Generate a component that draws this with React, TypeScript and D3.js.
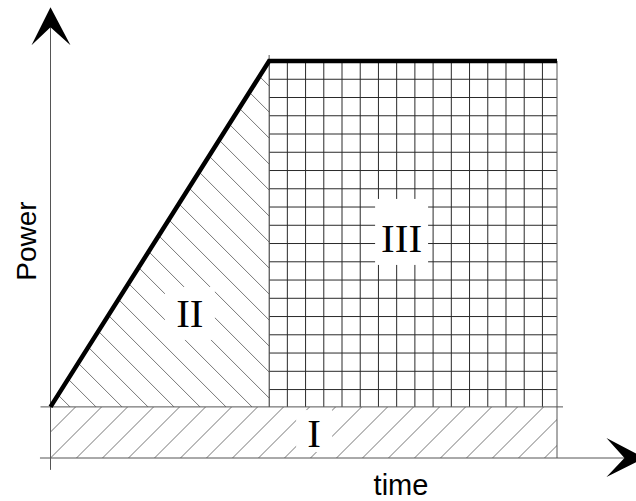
import React from "react";
import * as d3 from "d3";

// Schematic power profile: time breakpoints and power levels (in grid units)
const TIME = [0, 12, 27.8]; // start, end of ramp, end of plateau
const POWER = [2.8, 21.75]; // base load (top of region I), peak power
const AXIS_END = [32.6, 24.7]; // arrow tips: time axis, power axis
const AXIS_START = [-0.55, -0.65]; // small overshoot of axes past origin
const PHASES = ["I", "II", "III"];
const PHASE_T = [14.47, 7.65, 19.27]; // label centres (time)
const PHASE_P = [0.6, 7.18, 11.29]; // label baselines (power)
const AXIS_TITLES = ["time", "Power"];

const W = 636;
const H = 501;

const x = d3.scaleLinear().domain([0, 27.8]).range([50.5, 557]);
const y = d3.scaleLinear().domain([0, 21.75]).range([458, 61]);

export default function App() {
  const x0 = x(TIME[0]);
  const x1 = x(TIME[1]);
  const x2 = x(TIME[2]);
  const y0 = y(0);
  const yb = y(POWER[0]);
  const yp = y(POWER[1]);

  // grid for region III
  const gridX = d3.range(TIME[1], TIME[2] + 0.001, 1).map((t) => x(t));
  const gridY = d3.range(POWER[1], POWER[0] - 0.3, -1).map((p) => y(p));

  // hatch lines
  const hatchI = d3.range(-4, 24).map((k) => x0 + 26 * k);
  const hatchII = d3.range(0, 24).map((k) => 70 + 26 * k);

  const line = d3.line();
  const ramp = line([
    [x0, yb],
    [x1, yp],
    [x2, yp],
  ]);
  const tri = line([
    [x0, yb],
    [x1, yp],
    [x1, yb],
  ]) + "Z";

  const boxes = [
    { w: 36, top: 37, bot: 5 },
    { w: 50, top: 40, bot: 13 },
    { w: 53, top: 53, bot: 13 },
  ];

  const tipY = y(AXIS_END[1]);
  const tipX = x(AXIS_END[0]);
  const axisColor = "#555";

  return (
    <svg
      width={W}
      height={H}
      style={{ position: "absolute", left: 0, top: 0, background: "#fff" }}
    >
      <defs>
        <clipPath id="clipI">
          <rect x={x0} y={yb} width={x2 - x0} height={y0 - yb} />
        </clipPath>
        <clipPath id="clipII">
          <path d={tri} />
        </clipPath>
        <clipPath id="clipIII">
          <rect x={x1} y={yp} width={x2 - x1} height={yb - yp} />
        </clipPath>
      </defs>
      <rect x={0} y={0} width={W} height={H} fill="#fff" />

      {/* region I hatch (/) */}
      <g clipPath="url(#clipI)" stroke="#777" strokeWidth={1}>
        {hatchI.map((c, i) => (
          <line key={i} x1={c} y1={y0} x2={c + 120} y2={y0 - 120} />
        ))}
      </g>

      {/* region II hatch (\) */}
      <g clipPath="url(#clipII)" stroke="#777" strokeWidth={1}>
        {hatchII.map((c, i) => (
          <line key={i} x1={c} y1={yb} x2={c - 500} y2={yb - 500} />
        ))}
      </g>

      {/* region III grid */}
      <g clipPath="url(#clipIII)" stroke="#2a2a2a" strokeWidth={1}>
        {gridX.map((gx, i) => (
          <line key={"v" + i} x1={gx} y1={yp} x2={gx} y2={yb} />
        ))}
        {gridY.map((gy, i) => (
          <line key={"h" + i} x1={x1} y1={gy} x2={x2} y2={gy} />
        ))}
      </g>

      {/* white label boxes */}
      {PHASES.map((p, i) => {
        const cx = x(PHASE_T[i]);
        const by = y(PHASE_P[i]);
        const b = boxes[i];
        return (
          <rect
            key={p}
            x={cx - b.w / 2}
            y={by - b.top}
            width={b.w}
            height={b.top + b.bot}
            fill="#fff"
          />
        );
      })}

      {/* outlines */}
      <g stroke={axisColor} strokeWidth={1} fill="none">
        <line x1={x1} y1={yp - 6} x2={x1} y2={yb} />
        <line x1={x2} y1={yp} x2={x2} y2={y0} />
        <line x1={x0 - 10} y1={yb} x2={x2 + 6} y2={yb} />
        {/* axes */}
        <line x1={x0} y1={tipY + 15} x2={x0} y2={y(AXIS_START[1])} />
        <line x1={x(AXIS_START[0]) - 0.5} y1={y0} x2={tipX - 15} y2={y0} />
      </g>

      {/* arrow heads */}
      <path
        d={`M${x0},${tipY} L${x0 + 20},${tipY + 38} L${x0},${tipY + 20} L${x0 - 19},${tipY + 38} Z`}
        fill="#000"
      />
      <path
        d={`M${tipX},${y0} L${tipX - 38},${y0 - 20} L${tipX - 20},${y0} L${tipX - 38},${y0 + 19} Z`}
        fill="#000"
      />

      {/* thick power curve */}
      <path d={ramp} fill="none" stroke="#000" strokeWidth={4.5} strokeLinejoin="miter" />

      {/* phase labels */}
      {PHASES.map((p, i) => (
        <text
          key={p}
          x={x(PHASE_T[i])}
          y={y(PHASE_P[i])}
          textAnchor="middle"
          fontFamily="'Liberation Serif', 'Times New Roman', serif"
          fontSize={41}
          fill="#000"
        >
          {p}
        </text>
      ))}

      {/* axis titles */}
      <text
        x={401}
        y={495}
        textAnchor="middle"
        fontFamily="'Liberation Sans', Arial, sans-serif"
        fontSize={29}
        fill="#000"
      >
        {AXIS_TITLES[0]}
      </text>
      <text
        transform={`translate(36,241) rotate(-90)`}
        textAnchor="middle"
        fontFamily="'Liberation Sans', Arial, sans-serif"
        fontSize={28}
        fill="#000"
      >
        {AXIS_TITLES[1]}
      </text>
    </svg>
  );
}
